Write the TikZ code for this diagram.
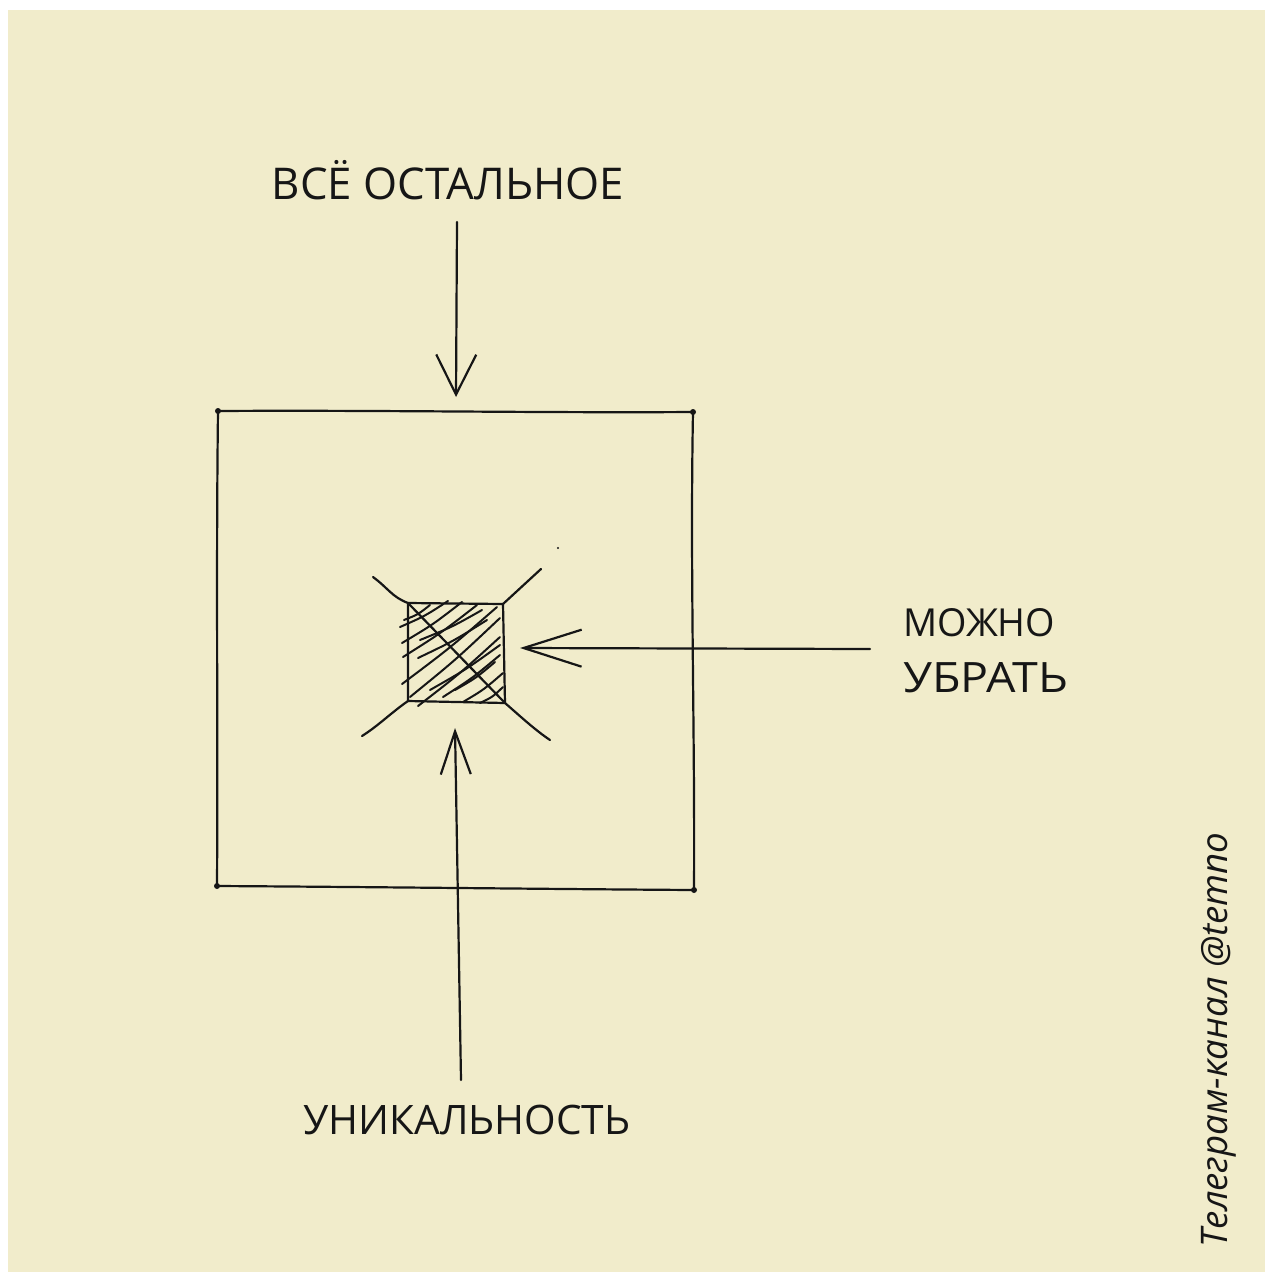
\documentclass[tikz,border=0pt]{standalone}
\usepackage{fontspec}
\setmainfont{Open Sans}
\newfontfamily\handfont{Open Sans}
\usetikzlibrary{arrows.meta,calc}
\definecolor{paper}{HTML}{F1ECCB}
\definecolor{ink}{HTML}{161616}
\begin{document}
\begin{tikzpicture}[x=1pt,y=-1pt,
  pen/.style={draw=ink,line width=2.2pt,line cap=round,line join=round},
  hatchpen/.style={draw=ink,line width=2pt,line cap=round},
  hand/.style={text=ink,inner sep=0pt,font=\handfont\fontsize{40}{46}\selectfont},
  wm/.style={text=ink,inner sep=0pt,font=\itshape\fontsize{30}{34}\selectfont}]
  % page
  \fill[white] (0,0) rectangle (1265,1272);
  \fill[paper] (8,10) rectangle (1265,1272);
  \useasboundingbox (0,0) rectangle (1265,1272);

  % labels
  \node[hand] (rest) at (448,180) {\resizebox{352pt}{!}{ВСЁ ОСТАЛЬНОЕ}};
  \node[hand,align=left,anchor=west] (remove) at (903,651)
    {\resizebox{152pt}{28pt}{МОЖНО}\\[10pt]\resizebox{165pt}{30pt}{УБРАТЬ}};
  \node[hand] (unique) at (467,1120) {\resizebox{327pt}{!}{УНИКАЛЬНОСТЬ}};
  \node[wm,rotate=90] (tg) at (1219,1040) {\resizebox{415pt}{!}{Телеграм-канал @temno}};

  % outer box
  \coordinate (o1) at (218,411);
  \coordinate (o2) at (693,412);
  \coordinate (o3) at (694,890);
  \coordinate (o4) at (217,886);
  \draw[pen] (o1) .. controls (380,410) and (540,413) .. (o2)
    .. controls (690,570) and (695,730) .. (o3)
    .. controls (540,889) and (380,887) .. (o4)
    .. controls (218,730) and (216,570) .. cycle;
  \foreach \c in {o1,o2,o3,o4} \fill[ink] (\c) circle (3pt);

  % inner square
  \coordinate (i1) at (408,603);
  \coordinate (i2) at (503,604);
  \coordinate (i3) at (505,703);
  \coordinate (i4) at (408,701);
  \draw[pen] (i1) -- (i2) -- (i3) -- (i4) -- cycle;
  \draw[pen] (i1) -- (i3);
  % hatching
  \foreach \a/\b/\c/\d in {
    400/627/448/601, 402/643/462/602, 403/657/477/605, 418/658/487/620,
    420/640/482/610, 402/684/497/607, 410/697/500/618, 418/706/500/637,
    430/690/500/645, 443/697/500/655, 463/702/503/673, 480/703/503/687,
    404/620/430/605, 455/690/495/662}
    \draw[hatchpen] (\a,\b) .. controls ($(\a,\b)!0.5!(\c,\d)+(1,2)$) .. (\c,\d);
  % rays
  \coordinate (r1) at (373,577);
  \coordinate (r2) at (541,569);
  \coordinate (r3) at (550,740);
  \coordinate (r4) at (362,736);
  \draw[pen] (r1) .. controls (388,588) and (392,597) .. (i1);
  \draw[pen] (r2) -- (i2);
  \draw[pen] (i3) .. controls (520,716) and (535,730) .. (r3);
  \draw[pen] (r4) .. controls (378,726) and (392,712) .. (i4);
  \fill[ink] (558,548) circle (1.2pt);

  % arrows
  \coordinate (tA) at (457,222);
  \coordinate (tB) at (456,397);
  \draw[pen,-{Straight Barb[length=40pt,width=40pt]}] (tA) -- (tB);
  \coordinate (rA) at (870,649);
  \coordinate (rB) at (520,648);
  \draw[pen,-{Straight Barb[length=58pt,width=37pt]}] (rA) -- (rB);
  \coordinate (bA) at (461,1080);
  \coordinate (bB) at (455,728);
  \draw[pen,-{Straight Barb[length=43pt,width=30pt]}] (bA) -- (bB);
\end{tikzpicture}
\end{document}
